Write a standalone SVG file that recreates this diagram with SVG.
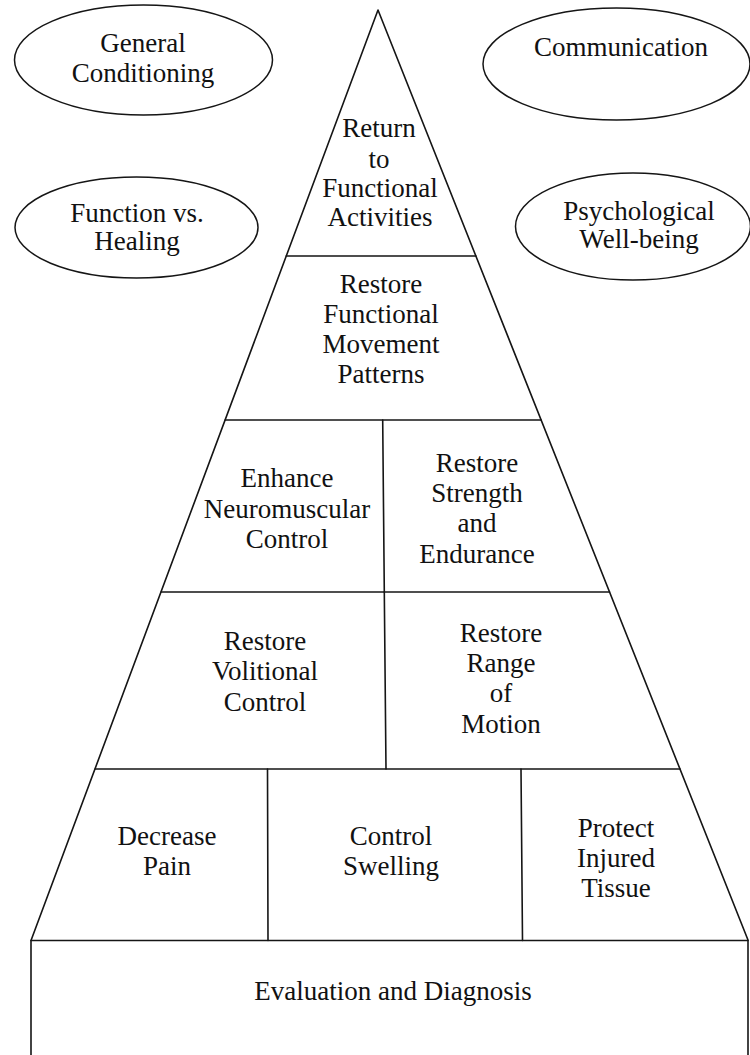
<svg xmlns="http://www.w3.org/2000/svg" width="750" height="1055" viewBox="0 0 750 1055">
  <style>
    .ln { fill: none; stroke: #151515; stroke-width: 1.6; stroke-linecap: round; stroke-linejoin: round; }
    .ov { fill: #ffffff; stroke: #151515; stroke-width: 1.5; }
    .tx { font-family: "Liberation Serif", "Times New Roman", serif; font-size: 27px; fill: #111111; text-anchor: middle; }
  </style>
  <rect width="750" height="1055" fill="#ffffff"/>

  <!-- Pyramid outline and cell dividers -->
  <g id="pyramid-frame">
    <path class="ln" d="M31,1055 L31,940.5 L378,10 L748,940 L748,1055"/>
    <line class="ln" x1="286.3" y1="256" x2="475.9" y2="256"/>
    <line class="ln" x1="225.2" y1="420" x2="541.1" y2="420"/>
    <line class="ln" x1="161.1" y1="592" x2="609.5" y2="592"/>
    <line class="ln" x1="95.1" y1="769" x2="680" y2="769"/>
    <line class="ln" x1="31" y1="940.5" x2="748" y2="940.5"/>
    <line class="ln" x1="382.7" y1="420" x2="384.3" y2="592"/>
    <line class="ln" x1="384.3" y1="592" x2="386" y2="769"/>
    <line class="ln" x1="267.5" y1="769" x2="268" y2="940.5"/>
    <line class="ln" x1="521" y1="769" x2="522.5" y2="940.5"/>
  </g>

  <!-- Side ellipses -->
  <g id="general-conditioning">
    <ellipse class="ov" cx="143.5" cy="60" rx="129" ry="55"/>
    <text class="tx" x="143" y="52">General</text>
    <text class="tx" x="143" y="82">Conditioning</text>
  </g>
  <g id="function-vs-healing">
    <ellipse class="ov" cx="136.5" cy="227.5" rx="121.5" ry="50.5"/>
    <text class="tx" x="137" y="222">Function vs.</text>
    <text class="tx" x="137" y="250">Healing</text>
  </g>
  <g id="communication">
    <ellipse class="ov" cx="616.5" cy="64" rx="133.5" ry="56"/>
    <text class="tx" x="621" y="56">Communication</text>
  </g>
  <g id="psychological-well-being">
    <ellipse class="ov" cx="633" cy="226.5" rx="117.5" ry="53.5"/>
    <text class="tx" x="639" y="220">Psychological</text>
    <text class="tx" x="639" y="248">Well-being</text>
  </g>

  <!-- Pyramid cells, top to bottom -->
  <g id="return-to-functional-activities">
    <text class="tx" x="379" y="137">Return</text>
    <text class="tx" x="379" y="168">to</text>
    <text class="tx" x="380" y="197">Functional</text>
    <text class="tx" x="380" y="226">Activities</text>
  </g>
  <g id="restore-functional-movement-patterns">
    <text class="tx" x="381" y="293">Restore</text>
    <text class="tx" x="381" y="323">Functional</text>
    <text class="tx" x="381" y="353">Movement</text>
    <text class="tx" x="381" y="383">Patterns</text>
  </g>
  <g id="enhance-neuromuscular-control">
    <text class="tx" x="287" y="487">Enhance</text>
    <text class="tx" x="287" y="518">Neuromuscular</text>
    <text class="tx" x="287" y="548">Control</text>
  </g>
  <g id="restore-strength-endurance">
    <text class="tx" x="477" y="472">Restore</text>
    <text class="tx" x="477" y="502">Strength</text>
    <text class="tx" x="477" y="532">and</text>
    <text class="tx" x="477" y="563">Endurance</text>
  </g>
  <g id="restore-volitional-control">
    <text class="tx" x="265" y="650">Restore</text>
    <text class="tx" x="265" y="680">Volitional</text>
    <text class="tx" x="265" y="711">Control</text>
  </g>
  <g id="restore-range-of-motion">
    <text class="tx" x="501" y="642">Restore</text>
    <text class="tx" x="501" y="672">Range</text>
    <text class="tx" x="501" y="702">of</text>
    <text class="tx" x="501" y="733">Motion</text>
  </g>
  <g id="decrease-pain">
    <text class="tx" x="167" y="845">Decrease</text>
    <text class="tx" x="167" y="875">Pain</text>
  </g>
  <g id="control-swelling">
    <text class="tx" x="391" y="845">Control</text>
    <text class="tx" x="391" y="875">Swelling</text>
  </g>
  <g id="protect-injured-tissue">
    <text class="tx" x="616" y="837">Protect</text>
    <text class="tx" x="616" y="867">Injured</text>
    <text class="tx" x="616" y="897">Tissue</text>
  </g>
  <g id="evaluation-and-diagnosis">
    <text class="tx" x="393" y="1000">Evaluation and Diagnosis</text>
  </g>
</svg>
